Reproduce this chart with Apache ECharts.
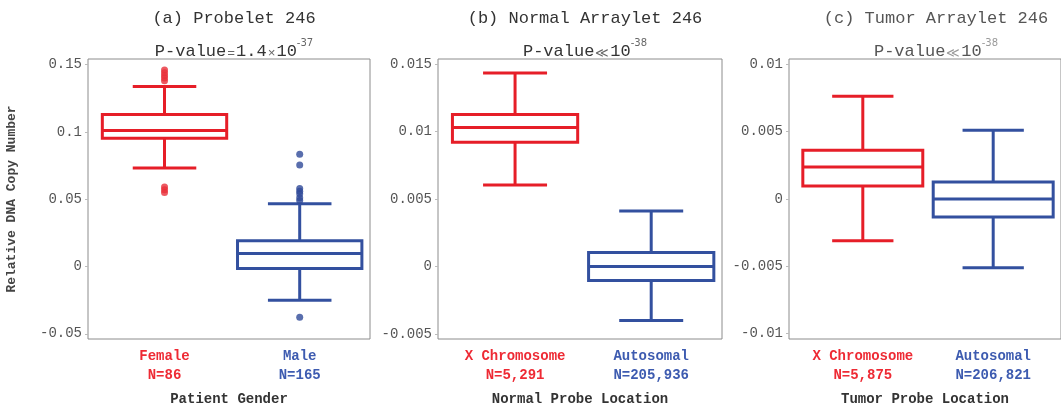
<!DOCTYPE html>
<html>
<head>
<meta charset="utf-8">
<script src="https://cdn.jsdelivr.net/npm/echarts@6/dist/echarts.min.js"></script>
<style>
html, body { margin: 0; padding: 0; background: #fff; }
#chart { width: 1061px; height: 411px; }
</style>
</head>
<body>
<div id="chart"></div>
<script>
var panelTitles = ['(a) Probelet 246', '(b) Normal Arraylet 246', '(c) Tumor Arraylet 246'];
var pvalMain = ['1.4', '', ''];
var pvalExp = ['-37', '-38', '-38'];
var axisNames = ['Patient Gender', 'Normal Probe Location', 'Tumor Probe Location'];
var groupNames = [['Female', 'Male'], ['X Chromosome', 'Autosomal'], ['X Chromosome', 'Autosomal']];
var groupCounts = [['N=86', 'N=165'], ['N=5,291', 'N=205,936'], ['N=5,875', 'N=206,821']];

// [low whisker, Q1, median, Q3, high whisker] for each group
var boxesA = [[0.0731, 0.0953, 0.1010, 0.1130, 0.1337], [-0.0251, -0.0015, 0.0096, 0.0192, 0.0466]];
var boxesB = [[0.00603, 0.0092, 0.0103, 0.01125, 0.01434], [-0.0040, -0.00103, 0, 0.00103, 0.00412]];
var boxesC = [[-0.00311, 0.00096, 0.00237, 0.00363, 0.00763], [-0.00511, -0.00133, 0, 0.00126, 0.00511]];

var outliersA = [[0.146, 0.144, 0.142, 0.140, 0.138, 0.059, 0.057, 0.055],
                 [0.0835, 0.0754, 0.058, 0.056, 0.054, 0.051, 0.049, -0.0377]];

var yTicks = [[-0.05, 0, 0.05, 0.1, 0.15], [-0.005, 0, 0.005, 0.01, 0.015], [-0.01, -0.005, 0, 0.005, 0.01]];
var yRange = [[-0.0539, 0.1542], [-0.00537, 0.01537], [-0.0104, 0.0104]];

var red = '#e61e28';
var blue = '#33509f';
var groupColors = [red, blue];
var mono = '"Liberation Mono", "DejaVu Sans Mono", monospace';

var grids = [
    { left: 88, top: 59, width: 282, height: 282 },
    { left: 438, top: 59, width: 284, height: 282 },
    { left: 789, top: 59, width: 284, height: 282 }
];
var titleCenters = [229, 580, 931];
var faded = [false, false, true];

function renderBox(params, api) {
    var x = api.value(0);
    var lo = api.value(1), q1 = api.value(2), md = api.value(3), q3 = api.value(4), hi = api.value(5);
    var color = api.visual('color');
    var cx = api.coord([x, 0])[0];
    var bl = api.coord([x - 0.46, q3]);
    var br = api.coord([x + 0.46, q1]);
    var capL = api.coord([x - 0.235, 0])[0];
    var capR = api.coord([x + 0.235, 0])[0];
    var yLo = api.coord([x, lo])[1], yHi = api.coord([x, hi])[1], yMd = api.coord([x, md])[1];
    var st = { stroke: color, lineWidth: 3, fill: null };
    return {
        type: 'group',
        children: [
            { type: 'line', shape: { x1: cx, y1: yHi, x2: cx, y2: bl[1] }, style: st },
            { type: 'line', shape: { x1: cx, y1: br[1], x2: cx, y2: yLo }, style: st },
            { type: 'line', shape: { x1: capL, y1: yHi, x2: capR, y2: yHi }, style: st },
            { type: 'line', shape: { x1: capL, y1: yLo, x2: capR, y2: yLo }, style: st },
            { type: 'rect', shape: { x: bl[0], y: bl[1], width: br[0] - bl[0], height: br[1] - bl[1] },
              style: { stroke: color, lineWidth: 3, fill: '#fff' } },
            { type: 'line', shape: { x1: bl[0], y1: yMd, x2: br[0], y2: yMd }, style: st }
        ]
    };
}

function fmtTick(v) {
    return String(+v.toFixed(4));
}

var allBoxes = [boxesA, boxesB, boxesC];
var title = [], xAxis = [], yAxis = [], series = [];

for (let i = 0; i < 3; i++) {
    let tColor = faded[i] ? '#555' : '#333';
    let eColor = faded[i] ? '#999' : '#666';
    title.push({
        text: panelTitles[i],
        left: titleCenters[i],
        top: 5,
        textAlign: 'center',
        textStyle: { fontFamily: mono, fontSize: 17, fontWeight: 'normal', color: tColor }
    });
    let rel = i === 0 ? '{e|=}{m|' + pvalMain[i] + '}{e|×}' : '{e|≪}';
    title.push({
        text: '{m|P-value}' + rel + '{m|10}{s|' + pvalExp[i] + '}',
        left: titleCenters[i],
        top: 33,
        textAlign: 'center',
        textStyle: {
            fontWeight: 'normal',
            rich: {
                m: { fontFamily: mono, fontSize: 17, fontWeight: 'normal', color: tColor, lineHeight: 22, verticalAlign: 'bottom' },
                e: { fontFamily: mono, fontSize: 13, fontWeight: 'normal', color: eColor, lineHeight: 22, verticalAlign: 'bottom', padding: [0, 1, 0, 1] },
                s: { fontFamily: 'DejaVu Sans', fontSize: 10, fontWeight: 'normal', color: eColor, lineHeight: 22, verticalAlign: 'top' }
            }
        }
    });

    let names = groupNames[i], counts = groupCounts[i];
    xAxis.push({
        type: 'value',
        gridIndex: i,
        min: 0.434,
        max: 2.52,
        name: axisNames[i],
        nameLocation: 'middle',
        nameGap: 53,
        nameTextStyle: { fontFamily: mono, fontSize: 14, fontWeight: 'bold', color: '#333' },
        axisLine: { show: false },
        axisTick: { show: false },
        splitLine: { show: false },
        axisLabel: {
            customValues: [1, 2],
            margin: 8,
            formatter: function (v) {
                let k = Math.round(v) - 1;
                let tag = k === 0 ? 'r' : 'b';
                return '{' + tag + '|' + names[k] + '}\n{' + tag + '|' + counts[k] + '}';
            },
            rich: {
                r: { fontFamily: mono, fontSize: 14, fontWeight: 'bold', color: '#ee2a34', lineHeight: 19 },
                b: { fontFamily: mono, fontSize: 14, fontWeight: 'bold', color: '#3d5bb0', lineHeight: 19 }
            }
        }
    });

    yAxis.push({
        type: 'value',
        gridIndex: i,
        min: yRange[i][0],
        max: yRange[i][1],
        name: i === 0 ? 'Relative DNA Copy Number' : '',
        nameLocation: 'middle',
        nameGap: 70,
        nameTextStyle: { fontFamily: mono, fontSize: 13, fontWeight: 'bold', color: '#444' },
        axisLine: { show: false },
        splitLine: { show: false },
        axisTick: { customValues: yTicks[i], length: 3, lineStyle: { color: '#bbb' } },
        axisLabel: {
            customValues: yTicks[i],
            margin: 6,
            fontFamily: mono,
            fontSize: 14,
            color: '#555',
            formatter: fmtTick
        }
    });

    series.push({
        type: 'custom',
        xAxisIndex: i,
        yAxisIndex: i,
        clip: false,
        renderItem: renderBox,
        data: allBoxes[i].map(function (b, k) {
            return { value: [k + 1].concat(b), itemStyle: { color: groupColors[k] } };
        }),
        z: 3
    });
}

outliersA.forEach(function (vals, k) {
    series.push({
        type: 'scatter',
        xAxisIndex: 0,
        yAxisIndex: 0,
        symbolSize: 7,
        itemStyle: { color: k === 0 ? '#e8303a' : '#2f4a98' },
        data: vals.map(function (v) { return [k + 1, v]; }),
        z: 4
    });
});

var option = {
    backgroundColor: '#fff',
    animation: false,
    title: title,
    grid: grids.map(function (g) {
        return Object.assign({ show: true, borderColor: '#8c8c8c', borderWidth: 1, backgroundColor: 'transparent' }, g);
    }),
    xAxis: xAxis,
    yAxis: yAxis,
    series: series
};

echarts.init(document.getElementById('chart')).setOption(option);
</script>
</body>
</html>
